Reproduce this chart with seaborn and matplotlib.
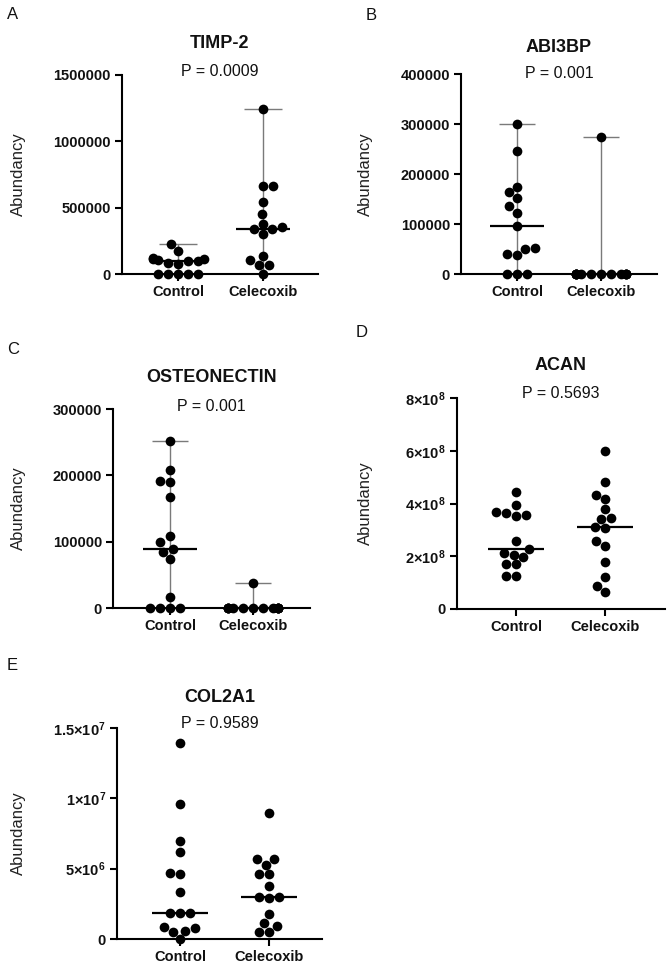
import numpy as np
import pandas as pd
import matplotlib
matplotlib.use("Agg")
import matplotlib.pyplot as plt
import seaborn as sns

# ---------------- data ----------------
groups = ["Control", "Celecoxib"]

timp2_control = [0, 0, 0, 0, 0, 75000, 85000, 95000, 100000, 105000, 110000, 115000, 120000, 170000, 225000]
timp2_celecoxib = [0, 68000, 68000, 105000, 138000, 299000, 337000, 337000, 357000, 377000, 450000, 543000, 663000, 663000, 1241000]

abi3bp_control = [0, 0, 0, 37000, 40000, 50000, 52000, 95000, 122000, 135000, 151000, 163000, 174000, 246000, 300000]
abi3bp_celecoxib = [0, 0, 0, 0, 0, 0, 0, 0, 0, 0, 0, 0, 0, 0, 273000]

osteonectin_control = [0, 0, 0, 0, 17000, 74000, 85000, 89000, 99000, 108000, 167000, 190000, 191000, 208000, 252000]
osteonectin_celecoxib = [0, 0, 0, 0, 0, 0, 0, 0, 0, 0, 0, 0, 0, 0, 37000]

acan_control = [1.25e8, 1.27e8, 1.70e8, 1.71e8, 1.96e8, 2.06e8, 2.12e8, 2.27e8, 2.59e8, 3.51e8, 3.57e8, 3.64e8, 3.66e8, 3.96e8, 4.42e8]
acan_celecoxib = [0.66e8, 0.87e8, 1.23e8, 1.80e8, 2.37e8, 2.56e8, 3.06e8, 3.10e8, 3.40e8, 3.44e8, 3.78e8, 4.16e8, 4.33e8, 4.81e8, 6.00e8]

col2a1_control = [0, 0.48e6, 0.60e6, 0.76e6, 0.88e6, 1.88e6, 1.88e6, 1.88e6, 3.33e6, 4.62e6, 4.69e6, 6.17e6, 7.00e6, 9.62e6, 13.93e6]
col2a1_celecoxib = [0.52e6, 0.52e6, 0.95e6, 1.12e6, 1.79e6, 2.95e6, 3.02e6, 3.02e6, 3.79e6, 4.64e6, 4.64e6, 5.29e6, 5.69e6, 5.69e6, 8.93e6]

titles = ["TIMP-2", "ABI3BP", "OSTEONECTIN", "ACAN", "COL2A1"]
pvalues = ["P = 0.0009", "P = 0.001", "P = 0.001", "P = 0.5693", "P = 0.9589"]
panel_letters = ["A", "B", "C", "D", "E"]

timp2_ticks = [0, 500000, 1000000, 1500000]
timp2_labels = ["0", "500000", "1000000", "1500000"]
abi3bp_ticks = [0, 100000, 200000, 300000, 400000]
abi3bp_labels = ["0", "100000", "200000", "300000", "400000"]
osteonectin_ticks = [0, 100000, 200000, 300000]
osteonectin_labels = ["0", "100000", "200000", "300000"]
acan_ticks = [0, 2e8, 4e8, 6e8, 8e8]
acan_labels = ["0", r"$\mathbf{2{\times}10^{8}}$", r"$\mathbf{4{\times}10^{8}}$",
               r"$\mathbf{6{\times}10^{8}}$", r"$\mathbf{8{\times}10^{8}}$"]
col2a1_ticks = [0, 5e6, 1e7, 1.5e7]
col2a1_labels = ["0", r"$\mathbf{5{\times}10^{6}}$", r"$\mathbf{1{\times}10^{7}}$",
                 r"$\mathbf{1.5{\times}10^{7}}$"]

# ---------------- style ----------------
sns.set_theme(style="ticks")
plt.rcParams["font.family"] = ["Liberation Sans", "DejaVu Sans"]
plt.rcParams["mathtext.fontset"] = "custom"
plt.rcParams["mathtext.bf"] = "Liberation Sans:bold"
plt.rcParams["mathtext.rm"] = "Liberation Sans"

W, H = 670, 972
fig = plt.figure(figsize=(W / 100, H / 100), dpi=100)

panels = [
    dict(box=(122, 75, 318, 274), cats=(178, 263), ty=43, py=71, yl=26, lx=7, ly=7, rng=True,
         c=timp2_control, t=timp2_celecoxib, ticks=timp2_ticks, labels=timp2_labels),
    dict(box=(461, 74, 657, 274), cats=(517, 601), ty=47, py=73, yl=373, lx=366, ly=8, rng=True,
         c=abi3bp_control, t=abi3bp_celecoxib, ticks=abi3bp_ticks, labels=abi3bp_labels),
    dict(box=(113, 409, 310, 608), cats=(170, 253), ty=377, py=406, yl=26, lx=7, ly=342, rng=True,
         c=osteonectin_control, t=osteonectin_celecoxib, ticks=osteonectin_ticks, labels=osteonectin_labels),
    dict(box=(457, 398, 665, 609), cats=(516, 605), ty=365, py=393, yl=373, lx=356, ly=325, rng=False,
         c=acan_control, t=acan_celecoxib, ticks=acan_ticks, labels=acan_labels),
    dict(box=(117, 728, 322, 939), cats=(180, 269), ty=697, py=724, yl=26, lx=7, ly=658, rng=False,
         c=col2a1_control, t=col2a1_celecoxib, ticks=col2a1_ticks, labels=col2a1_labels),
]

axes = []
for i, p in enumerate(panels):
    l, t, r, b = p["box"]
    w, h = r - l, b - t
    ax = fig.add_axes([l / W, 1 - b / H, w / W, h / H])
    c0, c1 = p["cats"]
    sp = c1 - c0
    ax.set_xlim(-(c0 - l) / sp, 1 + (r - c1) / sp)
    ax.set_ylim(p["ticks"][0], p["ticks"][-1])
    df = pd.DataFrame({
        "group": [groups[0]] * len(p["c"]) + [groups[1]] * len(p["t"]),
        "value": list(p["c"]) + list(p["t"]),
    })
    sns.swarmplot(data=df, x="group", y="value", order=groups, color="black",
                  size=7.0, ax=ax, warn_thresh=1.0, zorder=3)
    for coll in ax.collections:
        coll.set_clip_on(False)

    for k, vals in enumerate([p["c"], p["t"]]):
        vals = np.asarray(vals, dtype=float)
        med = np.median(vals)
        if p["rng"]:
            ax.vlines(k, vals.min(), vals.max(), color="#7a7a7a", lw=1.0, zorder=2, clip_on=False)
            ax.hlines(vals.max(), k - 0.22, k + 0.22, color="#7a7a7a", lw=1.0, zorder=2, clip_on=False)
        ax.hlines(med, k - 0.32, k + 0.32, color="black", lw=1.6, zorder=4, clip_on=False)

    ax.set_xlim(-(c0 - l) / sp, 1 + (r - c1) / sp)
    ax.set_ylim(p["ticks"][0], p["ticks"][-1])
    ax.set_yticks(p["ticks"], labels=p["labels"], fontsize=10.5, fontweight="bold")
    ax.set_xticks([0, 1], labels=groups, fontsize=10.5, fontweight="bold")
    ax.set_xlabel("")
    ax.set_ylabel("Abundancy", fontsize=12, color="#222222")
    ax.yaxis.set_label_coords((p["yl"] - l) / w, 0.5)
    sns.despine(ax=ax)
    for s in ("left", "bottom"):
        ax.spines[s].set_linewidth(1.5)
        ax.spines[s].set_color("black")
    ax.tick_params(axis="both", direction="out", length=5, width=1.5, color="black",
                   labelcolor="#111111", pad=3)
    ax.set_facecolor("none")

    ax.text(0.5, (b - p["ty"]) / h, titles[i], transform=ax.transAxes, ha="center",
            va="center", fontsize=13, fontweight="bold", color="#111111")
    ax.text(0.5, (b - p["py"]) / h, pvalues[i], transform=ax.transAxes, ha="center",
            va="center", fontsize=11.5, color="#111111")
    fig.text(p["lx"] / W, 1 - p["ly"] / H, panel_letters[i], ha="left", va="top",
             fontsize=12, color="#111111")
    axes.append(ax)

# let seaborn lay out the swarms, then keep them within a narrower band (GraphPad-like)
fig.canvas.draw()
for ax in axes:
    for coll in ax.collections:
        if "draw" in coll.__dict__:
            xy = np.asarray(coll.get_offsets(), dtype=float).copy()
            center = np.round(xy[:, 0])
            xy[:, 0] = center + np.clip(xy[:, 0] - center, -0.30, 0.30)
            del coll.__dict__["draw"]
            coll.set_offsets(xy)

fig.savefig("out.png", dpi=100, facecolor="white")
